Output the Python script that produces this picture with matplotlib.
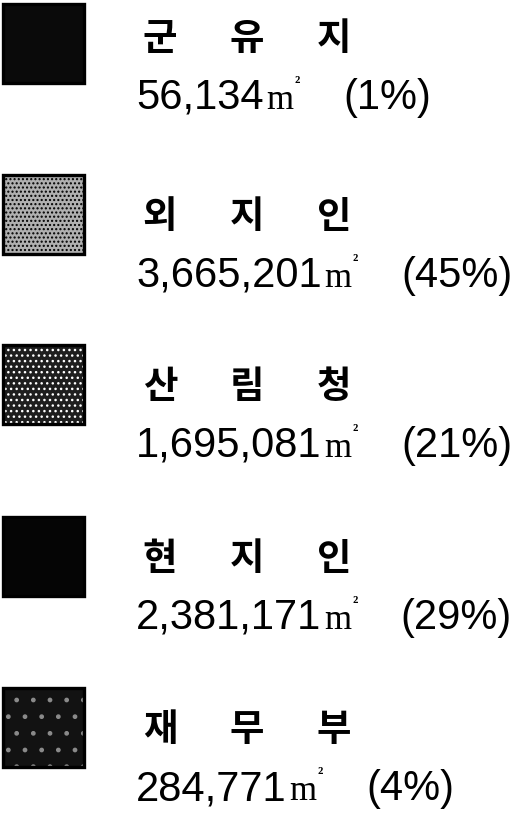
import matplotlib.pyplot as plt
from matplotlib.patches import Rectangle

# 소유자별 면적 범례
owners = ['군유지', '외지인', '산림청', '현지인', '재무부']
areas = [56134, 3665201, 1695081, 2381171, 284771]   # m²
shares = [1, 45, 21, 29, 4]                          # %

# 견본 색 (바탕, 점무늬)
fills = ['#0a0a0a', '#b0b0b0', '#1e1e1e', '#050505', '#121212']
dots = [None, '#000000', '#ffffff', None, '#8a8a8a']
dot_hatch = [None, '....', '...', None, '.']

plt.rcParams['hatch.linewidth'] = 1.0

fig = plt.figure(figsize=(5.2, 8.18), dpi=100)
ax = fig.add_axes([0, 0, 1, 1])
ax.set_xlim(0, 520)
ax.set_ylim(818, 0)
ax.axis('off')

box_top = [4, 175, 345, 517, 688]
text_top = [-3, 175, 345, 517, 688]


def px_right(t):
    fig.canvas.draw()
    bb = t.get_window_extent()
    return ax.transData.inverted().transform((bb.x1, bb.y0))[0]


for i, name in enumerate(owners):
    top = box_top[i]

    # 견본 사각형
    if dots[i] is None:
        ax.add_patch(Rectangle((3, top), 81, 79, facecolor=fills[i], edgecolor='none', lw=0))
    else:
        ax.add_patch(Rectangle((3, top), 81, 79, facecolor=fills[i], edgecolor=dots[i],
                               hatch=dot_hatch[i], lw=0))
    ax.add_patch(Rectangle((3, top), 81, 79, fill=False, edgecolor='black', lw=2.4))

    # 이름 (글자 간격 넓게)
    ty = text_top[i]
    for j, ch in enumerate(name):
        ax.text(160 + 87 * j, ty + 53, ch, ha='center', va='baseline', fontsize=27,
                fontweight='black', family='Noto Sans CJK KR', color='black')

    # 면적과 비율
    base = ty + 112
    t_num = ax.text(136, base, f'{areas[i]:,}', ha='left', va='baseline', fontsize=30,
                    family='Liberation Sans', color='black')
    x = px_right(t_num) + 3
    t_m = ax.text(x, base, 'm', ha='left', va='baseline', fontsize=25,
                  family='Liberation Serif', color='black')
    x = px_right(t_m) + 1
    t_sq = ax.text(x, base - 21, '²', ha='left', va='baseline', fontsize=13,
                   fontweight='bold', family='Liberation Serif', color='black')
    x = px_right(t_sq) + 43
    ax.text(x, base, f'({shares[i]}%)', ha='left', va='baseline', fontsize=30,
            family='Liberation Sans', color='black')

fig.savefig('out.png', dpi=100)
